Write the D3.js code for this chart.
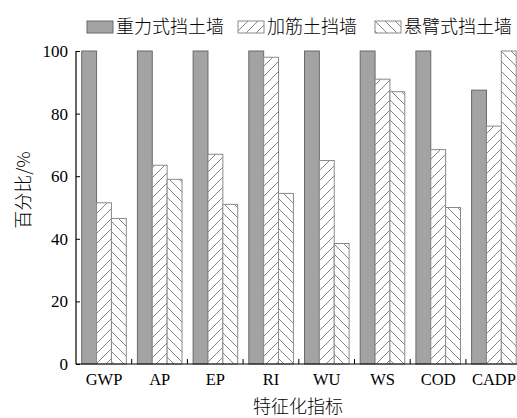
<!DOCTYPE html>
<html>
<head>
<meta charset="utf-8">
<script src="https://cdn.jsdelivr.net/npm/d3@7"></script>
<style>
  body { margin: 0; background: #fff; }
  svg { display: block; }
</style>
</head>
<body>
<div id="chart"></div>
<script>
// categories and series
var categories = ["GWP", "AP", "EP", "RI", "WU", "WS", "COD", "CADP"];
var seriesNames = ["重力式挡土墙", "加筋土挡墙", "悬臂式挡土墙"];
var gravity = [100, 100, 100, 100, 100, 100, 100, 87.5];
var reinforced = [51.5, 63.5, 67, 98, 65, 91, 68.5, 76];
var cantilever = [46.5, 59, 51, 54.5, 38.5, 87, 50, 100];
var yTicks = [0, 20, 40, 60, 80, 100];

var w = 517, h = 418;
var plotLeft = 76, plotTop = 51, plotBottom = 364;
var step = 55.7;

var svg = d3.select("#chart").append("svg").attr("width", w).attr("height", h);

var defs = svg.append("defs");
function hatch(id, d) {
  var p = defs.append("pattern")
    .attr("id", id)
    .attr("patternUnits", "userSpaceOnUse")
    .attr("width", 10).attr("height", 10);
  p.append("rect").attr("width", 10).attr("height", 10).attr("fill", "#fff");
  p.append("path").attr("d", d).attr("stroke", "#666").attr("stroke-width", 0.8).attr("fill", "none");
}
hatch("fwd", "M0,10 L10,0 M-2.5,2.5 L2.5,-2.5 M7.5,12.5 L12.5,7.5");
hatch("back", "M0,0 L10,10 M-2.5,7.5 L2.5,12.5 M7.5,-2.5 L12.5,2.5");

var fills = ["#a3a3a3", "url(#fwd)", "url(#back)"];
var strokes = ["#6a6a6a", "#8a8a8a", "#8a8a8a"];

var x = d3.scaleBand().domain(categories).range([plotLeft, plotLeft + step * categories.length]).paddingInner(0).paddingOuter(0);
var y = d3.scaleLinear().domain([0, 100]).range([plotBottom, plotTop]);
var xs = d3.scaleBand().domain([0, 1, 2]).range([5.7, 5.7 + 44.6]);

var series = [gravity, reinforced, cantilever];
series.forEach(function (vals, s) {
  svg.append("g").selectAll("rect")
    .data(vals)
    .enter().append("rect")
    .attr("x", function (d, i) { return x(categories[i]) + xs(s); })
    .attr("y", function (d) { return y(d); })
    .attr("width", xs.bandwidth())
    .attr("height", function (d) { return y(0) - y(d); })
    .attr("fill", fills[s])
    .attr("stroke", strokes[s])
    .attr("stroke-width", 1);
});

// y axis
var yAxis = svg.append("g")
  .attr("transform", "translate(" + plotLeft + ",0)")
  .call(d3.axisRight(y).tickValues(yTicks).tickSize(4).tickFormat(""));
yAxis.select(".domain").attr("stroke", "#000").attr("stroke-width", 1.2).attr("d", "M0," + plotTop + "V" + plotBottom);
yAxis.selectAll(".tick line").attr("stroke", "#000");
svg.append("g").selectAll("text")
  .data(yTicks)
  .enter().append("text")
  .attr("x", plotLeft - 8)
  .attr("y", function (d) { return y(d); })
  .attr("dy", "0.35em")
  .attr("text-anchor", "end")
  .attr("font-family", "Liberation Serif")
  .attr("font-size", 17)
  .text(function (d) { return d; });

// x axis
svg.append("line")
  .attr("x1", plotLeft).attr("x2", w).attr("y1", plotBottom).attr("y2", plotBottom)
  .attr("stroke", "#000").attr("stroke-width", 1.2);
svg.append("g").selectAll("line")
  .data(categories.slice(1))
  .enter().append("line")
  .attr("x1", function (d) { return x(d); })
  .attr("x2", function (d) { return x(d); })
  .attr("y1", plotBottom).attr("y2", plotBottom - 5)
  .attr("stroke", "#000");
svg.append("g").selectAll("text")
  .data(categories)
  .enter().append("text")
  .attr("x", function (d) { return x(d) + 5.7 + 22.3; })
  .attr("y", plotBottom + 21)
  .attr("text-anchor", "middle")
  .attr("font-family", "Liberation Serif")
  .attr("font-size", 16.5)
  .text(function (d) { return d; });

// axis titles
svg.append("text")
  .attr("x", 298).attr("y", 413)
  .attr("text-anchor", "middle")
  .attr("font-family", "Noto Sans CJK SC")
  .attr("font-weight", 300)
  .attr("font-size", 18)
  .text("特征化指标");
svg.append("text")
  .attr("transform", "translate(30,190) rotate(-90)")
  .attr("text-anchor", "middle")
  .attr("font-family", "Noto Sans CJK SC")
  .attr("font-weight", 300)
  .attr("font-size", 18)
  .text("百分比/%");

// legend
var legendX = [87, 238, 375];
var lg = svg.append("g").selectAll("g")
  .data(seriesNames)
  .enter().append("g")
  .attr("transform", function (d, i) { return "translate(" + legendX[i] + ",21)"; });
lg.append("rect")
  .attr("width", 26).attr("height", 12)
  .attr("fill", function (d, i) { return fills[i]; })
  .attr("stroke", function (d, i) { return strokes[i]; });
lg.append("text")
  .attr("x", 29).attr("y", 6)
  .attr("dy", "0.36em")
  .attr("font-family", "Noto Sans CJK SC")
  .attr("font-weight", 300)
  .attr("font-size", 18)
  .text(function (d) { return d; });
</script>
</body>
</html>
